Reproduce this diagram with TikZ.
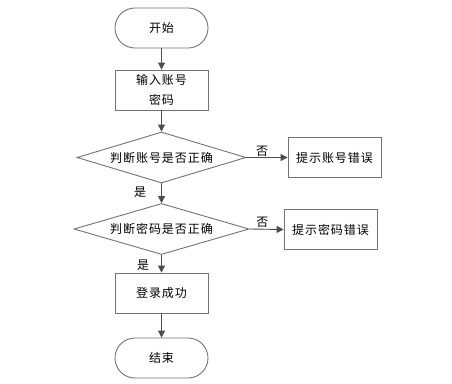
\documentclass[tikz,border=0pt]{standalone}
\usepackage{fontspec}
\newfontfamily\cjk[LetterSpace=8]{Noto Sans CJK SC}
\usetikzlibrary{arrows.meta,shapes.geometric,positioning}

\begin{document}
\begin{tikzpicture}[x=1pt, y=-1pt,
    box/.style={draw=black!55, line width=0.9pt, minimum width=93pt, minimum height=40pt, align=center, font=\cjk\fontsize{12}{20}\selectfont, fill=white},
    term/.style={box, rounded corners=19.9pt},
    decide/.style={box, diamond, aspect=3.3, inner sep=0pt, minimum height=51pt},
    arr/.style={-{Triangle[length=7pt,width=7pt]}, draw=black!70, line width=0.9pt},
    lbl/.style={font=\cjk\fontsize{12}{14}\selectfont, inner sep=1pt}
]
\fill[white] (0,0) rectangle (452,383);

\node[term] (start) at (161.5,28) {开始};
\node[box] (input) at (161.5,90) {输入账号\\密码};
\node[decide, minimum width=169pt] (chkuser) at (161.5,157.5) {判断账号是否正确};
\node[box] (erruser) at (334.5,157.5) {提示账号错误};
\node[decide, minimum width=175pt] (chkpass) at (161.5,229) {判断密码是否正确};
\node[box] (errpass) at (330.5,229.5) {提示密码错误};
\node[box] (ok) at (161.5,293) {登录成功};
\node[term] (stop) at (161.5,358) {结束};

\draw[arr] (start) -- (input);
\draw[arr] (input) -- (chkuser);
\draw[arr] (chkuser.east) -- node[lbl, above, pos=0.38] {否} (erruser.west);
\draw[arr] (chkuser.south) -- node[lbl, left, xshift=-14pt, yshift=1pt] {是} (chkpass.north);
\draw[arr] (chkpass.east) -- node[lbl, above, pos=0.38] {否} (errpass.west);
\draw[arr] (chkpass.south) -- node[lbl, left, xshift=-11pt, yshift=-1pt] {是} (ok);
\draw[arr] (ok) -- (stop);
\end{tikzpicture}
\end{document}
